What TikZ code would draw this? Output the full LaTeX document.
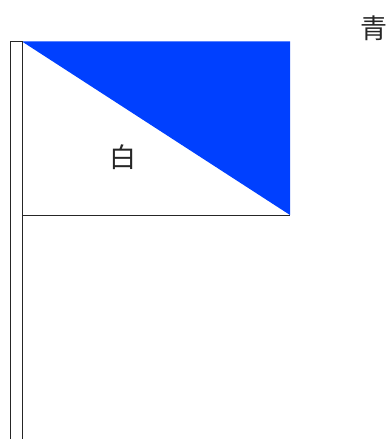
\documentclass[tikz,border=0pt]{standalone}
\usepackage{fontspec}
\newfontfamily\cjk{Noto Sans CJK JP}
\definecolor{flagblue}{HTML}{0040FF}
\begin{document}
\begin{tikzpicture}[
	x=1pt, y=1pt,
	edge/.style={draw=black!85, line width=0.9pt},
	label/.style={font=\cjk\fontsize{27}{27}\selectfont\mdseries, inner sep=0pt, text=black!85}
	]
	\useasboundingbox (0,0) rectangle (390,439);
	\coordinate (poleTL) at (10.5,397.5);
	\coordinate (poleBL) at (10.5,0);
	\coordinate (poleBR) at (22,0);
	\coordinate (flagTL) at (22,397.5);
	\coordinate (flagTR) at (290,397.5);
	\coordinate (flagBR) at (290,224);
	\coordinate (flagBL) at (22,224);
	\fill[flagblue] (flagTL) -- (flagTR) -- (flagBR) -- cycle;
	\draw[edge] (poleBL) -- (poleTL) -- (flagTL) -- (poleBR);
	\draw[edge] (flagBL) -- (flagBR);
	\node[label] (white) at (123,282) {白};
	\node[label] (blue) at (373.5,411) {青};
\end{tikzpicture}
\end{document}
